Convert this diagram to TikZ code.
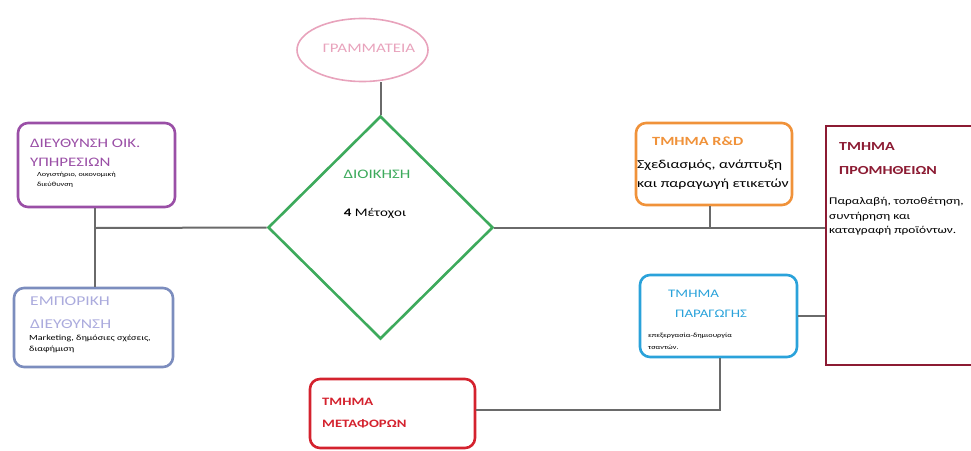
\documentclass[tikz,border=0pt]{standalone}
\usepackage{fontspec}
\usepackage{graphicx}
\setmainfont{Carlito}
\usetikzlibrary{shapes.geometric}
\definecolor{cpink}{HTML}{E8A3BC}
\definecolor{cgreen}{HTML}{3DAA5C}
\definecolor{cpurple}{HTML}{9A4FA6}
\definecolor{cslate}{HTML}{7C8DBE}
\definecolor{clav}{HTML}{ABABDD}
\definecolor{corange}{HTML}{F0923A}
\definecolor{cwine}{HTML}{8C1B33}
\definecolor{cblue}{HTML}{2AA2DA}
\definecolor{cred}{HTML}{D4222E}
\definecolor{cline}{HTML}{6A6A6A}
\newcommand\hstr[1]{\scalebox{1.3}[1]{#1}}
\tikzset{
  box/.style={draw, line width=2.6pt, rounded corners=10pt, minimum width=#1, inner sep=0pt},
  sqbox/.style={draw, line width=2.8pt, inner sep=0pt},
  conn/.style={draw=cline, line width=2pt},
  ln/.style={anchor=base west, inner sep=0pt},
}
\begin{document}
\begin{tikzpicture}[x=1pt,y=-1pt]
\useasboundingbox (0,0) rectangle (971,450);
% main shapes
\node[draw=cpink, line width=1.6pt, ellipse, minimum width=131pt, minimum height=63pt] (gram) at (362.5,50) {};
\node[text=cpink, font=\fontsize{13}{15}\selectfont] (gramt) at (369,48) {\hstr{ΓΡΑΜΜΑΤΕΙΑ}};
\node[draw=cgreen, line width=2.6pt, diamond, minimum width=225pt, minimum height=223pt, inner sep=0pt] (dio) at (380.5,227.5) {};
\node[ln, anchor=base, text=cgreen, font=\fontsize{13}{15}\selectfont] (diot) at (377,178) {\hstr{ΔΙΟΙΚΗΣΗ}};
\node[ln, anchor=base, font=\fontsize{11.5}{13}\selectfont] (diom) at (375,216) {\hstr{\textbf{4} Μέτοχοι}};

\node[box=157pt, draw=cpurple, minimum height=84pt] (oik) at (96.5,165) {};
\node[box=159pt, draw=cslate, minimum height=79pt] (emp) at (93.5,327.5) {};
\node[box=156pt, draw=corange, minimum height=82pt] (rd) at (714,164) {};
\node[sqbox, draw=cwine, minimum width=150pt, minimum height=239pt] (prom) at (901,245.5) {};
\node[box=157pt, draw=cblue, minimum height=82pt] (par) at (718.5,316) {};
\node[box=165pt, draw=cred, minimum height=69pt] (met) at (392.5,413.5) {};

% texts
\node[ln, text=cpurple, font=\fontsize{13}{15}\selectfont] (oik1) at (30,147) {\hstr{ΔΙΕΥΘΥΝΣΗ ΟΙΚ.}};
\node[ln, text=cpurple, font=\fontsize{13}{15}\selectfont] (oik2) at (30,166) {\hstr{ΥΠΗΡΕΣΙΩΝ}};
\node[ln, font=\fontsize{6.3}{8}\selectfont] (oik3) at (37,176) {\hstr{Λογιστήριο, οικονομική}};
\node[ln, font=\fontsize{6.3}{8}\selectfont] (oik4) at (37,186) {\hstr{διεύθυνση}};

\node[ln, text=clav, font=\fontsize{13.5}{15}\selectfont] (emp1) at (30,305) {\hstr{ΕΜΠΟΡΙΚΗ}};
\node[ln, text=clav, font=\fontsize{13.5}{15}\selectfont] (emp2) at (30,328) {\hstr{ΔΙΕΥΘΥΝΣΗ}};
\node[ln, font=\fontsize{7.8}{9}\selectfont] (emp3) at (29,340) {\hstr{Marketing, δημόσιες σχέσεις,}};
\node[ln, font=\fontsize{7.8}{9}\selectfont] (emp4) at (29,351) {\hstr{διαφήμιση}};

\node[ln, text=corange, font=\bfseries\fontsize{12.5}{15}\selectfont] (rd1) at (652,145) {\hstr{ΤΜΗΜΑ R\&D}};
\node[ln, font=\fontsize{12.2}{15}\selectfont] (rd2) at (637,168) {\hstr{Σχεδιασμός, ανάπτυξη}};
\node[ln, font=\fontsize{12.2}{15}\selectfont] (rd3) at (637,187) {\hstr{και παραγωγή ετικετών}};

\node[ln, text=cwine, font=\bfseries\fontsize{12.3}{14}\selectfont] (prom1) at (839,150) {\hstr{ΤΜΗΜΑ}};
\node[ln, text=cwine, font=\bfseries\fontsize{12.3}{14}\selectfont] (prom2) at (839,174) {\hstr{ΠΡΟΜΗΘΕΙΩΝ}};
\node[ln, font=\fontsize{10.3}{12}\selectfont] (prom3) at (829,204) {\hstr{Παραλαβή, τοποθέτηση,}};
\node[ln, font=\fontsize{10.3}{12}\selectfont] (prom4) at (829,219) {\hstr{συντήρηση και}};
\node[ln, font=\fontsize{10.3}{12}\selectfont] (prom5) at (829,233) {\hstr{καταγραφή προϊόντων.}};

\node[ln, text=cblue, font=\fontsize{11.5}{13}\selectfont] (par1) at (668,297) {\hstr{ΤΜΗΜΑ}};
\node[ln, text=cblue, font=\fontsize{11.5}{13}\selectfont] (par2) at (675,317) {\hstr{ΠΑΡΑΓΩΓΗΣ}};
\node[ln, font=\fontsize{6.3}{8}\selectfont] (par3) at (648,337) {\hstr{επεξεργασία-δημιουργία}};
\node[ln, font=\fontsize{6.3}{8}\selectfont] (par4) at (648,349) {\hstr{τσαντών.}};

\node[ln, text=cred, font=\bfseries\fontsize{11.3}{13}\selectfont] (met1) at (322,405) {\hstr{ΤΜΗΜΑ}};
\node[ln, text=cred, font=\bfseries\fontsize{11.3}{13}\selectfont] (met2) at (322,427) {\hstr{ΜΕΤΑΦΟΡΩΝ}};

% connectors
\coordinate (jl) at (95,228);
\coordinate (jr) at (710,228);
\coordinate (jb) at (720,410);
\draw[conn] (dio.north |- gram.south) -- (dio.north);
\draw[conn] (oik.south -| jl) -- (emp.north -| jl);
\draw[conn] (jl) -- (dio.west);
\draw[conn] (dio.east) -- (prom.west |- dio.east);
\draw[conn] (rd.south -| jr) -- (jr);
\draw[conn] (par.east) -- (prom.west |- par.east);
\draw[conn] (par.south -| jb) -- (jb) -- (met.east |- jb);
\end{tikzpicture}
\end{document}
